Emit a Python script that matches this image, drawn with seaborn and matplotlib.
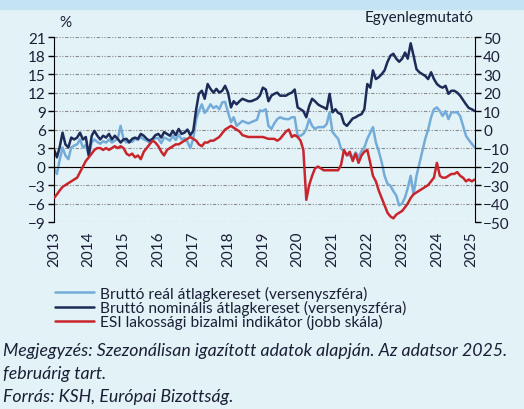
import numpy as np
import pandas as pd
from matplotlib import pyplot as plt
import matplotlib.dates as mdates
from matplotlib.patches import Rectangle
import seaborn as sns

# monthly data, Jan 2013 - Feb 2025
start_month = '2013-01-01'

real_wage = [
    -0.2, -1.2, 1.0, 3.1, 1.8, 1.2, 3.1, 3.4, 3.6, 4.4, 3.1, 3.5,
    1.8, 3.9, 4.4, 4.0, 3.7, 4.1, 3.9, 4.4, 3.9, 4.2, 4.5, 6.6,
    4.4, 3.9, 4.2, 4.0, 4.5, 4.3, 4.8, 4.4, 4.2, 3.9, 4.3, 4.6,
    4.6, 3.8, 4.7, 4.5, 4.2, 5.0, 4.3, 5.2, 4.4, 4.6, 4.0, 3.0,
    4.5, 7.7, 9.0, 10.1, 8.7, 9.3, 10.1, 9.5, 9.8, 9.3, 10.4, 10.5,
    8.8, 7.2, 8.0, 6.6, 7.0, 7.4, 7.2, 7.0, 7.2, 7.4, 7.6, 9.1,
    9.0, 9.3, 6.6, 6.1, 7.0, 7.7, 8.0, 7.8, 7.7, 7.7, 8.0, 8.0,
    5.0, 5.0, 5.3, 6.1, 7.7, 6.6, 6.1, 6.4, 6.4, 6.4, 6.9, 8.8,
    5.6, 5.0, 4.5, 2.9, 2.5, 2.0, 1.8, 1.5, 2.3, 1.5, 2.5, 3.1,
    4.5, 5.5, 6.4, 3.9, 2.5, 0.7, -1.5, -2.8, -3.1, -4.0, -4.7, -6.3,
    -6.0, -5.0, -3.5, -1.5, -4.5, -1.5, 0.5, 2.5, 4.5, 6.0, 8.0, 9.3,
    9.6, 9.0, 8.2, 9.0, 7.7, 8.8, 8.8, 8.8, 8.2, 6.6, 5.0, 4.3,
    3.7, 3.1]

nominal_wage = [
    2.8, 1.5, 3.1, 5.5, 3.6, 3.1, 4.7, 4.4, 4.7, 5.5, 4.4, 4.8,
    1.8, 5.0, 5.8, 5.0, 4.4, 5.0, 4.7, 5.3, 4.4, 5.0, 4.5, 3.9,
    4.4, 4.5, 3.9, 4.5, 4.7, 4.5, 5.3, 5.0, 4.5, 4.2, 4.5, 5.1,
    5.3, 4.7, 5.6, 5.3, 5.0, 5.8, 5.1, 6.1, 5.3, 5.5, 6.0, 5.1,
    5.8, 9.3, 11.8, 12.3, 11.0, 13.4, 12.6, 12.0, 12.6, 12.0, 12.3, 13.1,
    12.0, 9.6, 10.6, 10.1, 10.6, 11.0, 10.8, 10.6, 10.6, 10.8, 11.0, 11.5,
    12.8, 12.5, 10.6, 11.5, 11.8, 12.0, 11.5, 11.5, 11.5, 11.8, 12.0, 12.5,
    9.6, 9.3, 9.0, 8.0, 9.8, 11.0, 10.6, 10.1, 9.8, 9.6, 9.3, 11.8,
    8.8, 9.3, 8.7, 8.5, 7.0, 6.6, 7.2, 7.8, 8.0, 8.3, 8.5, 9.3,
    13.4, 12.8, 15.6, 14.2, 14.5, 15.0, 15.6, 17.0, 18.0, 18.3, 17.5, 17.0,
    17.5, 18.5, 17.5, 20.0, 18.0, 15.8, 15.3, 15.0, 14.7, 14.2, 15.3, 14.2,
    13.4, 13.0, 12.8, 13.1, 11.8, 12.3, 12.3, 12.0, 11.5, 10.8, 10.1, 9.5,
    9.3, 9.0]

esi_confidence = [
    -37, -35, -33, -31, -30, -29, -28, -27, -26, -23, -20, -17,
    -15, -13, -11, -10, -10, -11, -10, -11, -10, -9, -10, -9,
    -10, -13, -14, -13, -15, -14, -16, -12, -10, -8, -6, -7,
    -9, -12, -14, -11, -10, -9, -8, -8, -7, -6, -5, -4,
    -5, -6, -8, -9, -7, -7, -6, -6, -5, -4, -2, 0,
    1, 2, 1, 0, -1, -3, -3.5, -4, -4, -4, -4, -4,
    -4, -4.5, -5, -5, -5, -6, -5, -3, -1, 0, -4, -3,
    -4, -6, -11, -38, -30, -25, -21, -20, -21, -22, -22, -22,
    -22, -22, -22, -19, -11, -14, -12, -17, -13, -18, -14, -12,
    -11, -18, -25, -28, -33, -37, -41, -45, -47, -48, -46, -45,
    -44, -42, -40, -37, -35, -34, -33, -32, -31, -30, -28, -26,
    -18, -25, -26, -26, -25, -24, -24, -23, -25, -26, -28, -27,
    -28, -27]

labels = ['Bruttó reál átlagkereset (versenyszféra)',
          'Bruttó nominális átlagkereset (versenyszféra)',
          'ESI lakossági bizalmi indikátor (jobb skála)']
colors = ['#74acd9', '#1c2b57', '#c8262c']
left_ticks = np.arange(-9, 22, 3)
right_ticks = np.arange(-50, 51, 10)

bg = '#e3f2f7'
text_color = '#1a1f36'

sns.set_style('white')
plt.rcParams['font.family'] = ['Lato', 'DejaVu Sans']

dates = pd.date_range(start_month, periods=len(real_wage), freq='MS')
df = pd.DataFrame({'date': dates, 'real': real_wage,
                   'nominal': nominal_wage, 'esi': esi_confidence})

fig = plt.figure(figsize=(5.24, 4.10), dpi=100, facecolor=bg)
fig.patches.append(Rectangle((0, 1 - 10 / 410), 1, 10 / 410,
                             transform=fig.transFigure, color='#c4e4f3', zorder=0))
ax = fig.add_axes([0.103, 0.456, 0.803, 0.451])
ax.set_facecolor(bg)
ax2 = ax.twinx()

sns.lineplot(data=df, x='date', y='real', ax=ax, color=colors[0], lw=1.8, label=labels[0], legend=False)
sns.lineplot(data=df, x='date', y='nominal', ax=ax, color=colors[1], lw=1.8, label=labels[1], legend=False)
sns.lineplot(data=df, x='date', y='esi', ax=ax2, color=colors[2], lw=1.8, label=labels[2], legend=False)

ax.set_ylim(-9, 21)
ax2.set_ylim(-50, 50)
ax.set_yticks(left_ticks)
ax2.set_yticks(right_ticks)
ax.set_xlim(pd.Timestamp('2013-01-01'), pd.Timestamp('2025-02-01'))

for y in left_ticks:
    ax.axhline(y, color='#8a8a8a', lw=0.8, ls=(0, (3, 1.5, 1, 1.5, 1, 1.5)), zorder=0)

for a in (ax, ax2):
    a.set_xlabel('')
    a.set_ylabel('')
    a.spines['top'].set_visible(False)
ax.spines['right'].set_visible(False)
ax2.spines['left'].set_visible(False)
ax2.spines['bottom'].set_visible(False)
ax.spines['left'].set_color('black')
ax2.spines['right'].set_color('black')

# year ticks on the zero line, labels at the bottom
ax.spines['bottom'].set_position(('data', 0))
ax.spines['bottom'].set_color('black')
ax.xaxis.set_major_locator(mdates.YearLocator())
ax.tick_params(axis='x', direction='out', length=4, width=1, color='black', labelbottom=False)
ax.tick_params(axis='y', direction='out', length=4, width=1, color='black',
               labelsize=11, labelcolor=text_color, pad=2)
ax2.tick_params(axis='y', direction='out', length=4, width=1, color='black',
                labelsize=11, labelcolor=text_color, pad=2)

sec = ax.secondary_xaxis('bottom')
sec.xaxis.set_major_locator(mdates.YearLocator())
sec.xaxis.set_major_formatter(mdates.DateFormatter('%Y'))
sec.tick_params(length=0, labelsize=11, labelcolor=text_color, pad=6)
sec.spines['bottom'].set_visible(False)
for t in sec.get_xticklabels():
    t.set_rotation(90)

fig.text(0.113, 0.945, '%', fontsize=11, color=text_color, ha='left', va='center')
fig.text(0.903, 0.957, 'Egyenlegmutató', fontsize=11, color=text_color, ha='right', va='center')

h1, l1 = ax.get_legend_handles_labels()
h2, l2 = ax2.get_legend_handles_labels()
fig.legend(h1 + h2, l1 + l2, loc='upper left', bbox_to_anchor=(0.094, 0.316),
           frameon=False, fontsize=11.2, handlelength=2.5, handletextpad=0.35,
           labelspacing=-0.05, borderaxespad=0, labelcolor=text_color)

note_size = 12.8
fig.text(0.006, 0.143, 'Megjegyzés: Szezonálisan igazított adatok alapján. Az adatsor 2025.',
         fontsize=note_size, style='italic', color=text_color, va='center')
fig.text(0.006, 0.089, 'februárig tart.', fontsize=note_size, style='italic', color=text_color, va='center')
fig.text(0.006, 0.032, 'Forrás: KSH, Európai Bizottság.', fontsize=note_size, style='italic',
         color=text_color, va='center')

fig.savefig('out.png', dpi=100, facecolor=bg)
